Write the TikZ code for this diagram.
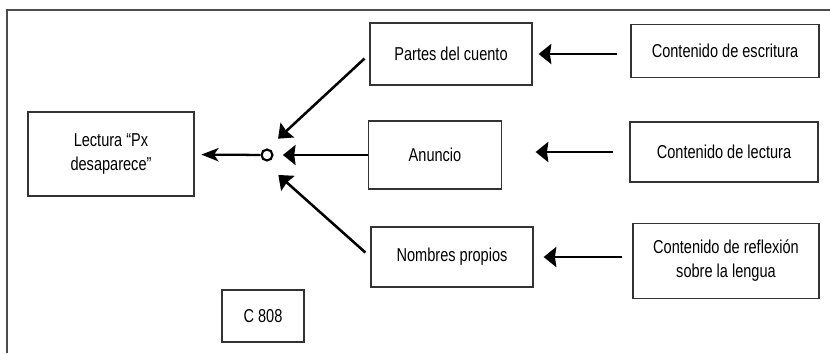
\documentclass[tikz,border=0pt]{standalone}
\usepackage{fontspec}
\setmainfont[FakeStretch=0.78]{Liberation Sans}
\usetikzlibrary{arrows.meta, positioning, calc}

\begin{document}
\begin{tikzpicture}[
    x=0.75pt, y=-0.75pt,
    font=\fontsize{14}{18}\selectfont,
    box/.style={draw=black!80, line width=0.9pt, align=center, inner sep=2pt},
    bigarrow/.style={-{Triangle[length=9.5pt, width=15pt, inset=1pt]}, line width=1.9pt},
    outarrow/.style={-{Stealth[length=13pt, width=10pt, inset=3.5pt]}, line width=1.7pt}
]
\useasboundingbox (0,0) rectangle (830,353);
\draw[black!70, line width=0.8pt] (7,353) -- (7,10) -- (830,10);

% left side
\node[box, minimum width=124.5pt, minimum height=63pt] (lectura) at (111,154) {Lectura “Px\\desaparece”};
\node[circle, draw, line width=1.6pt, minimum size=8.2pt, inner sep=0pt] (hub) at (267,155) {};
\node[box, minimum width=61.5pt, minimum height=39pt] (code) at (263,316) {C 808};

% middle column
\node[box, minimum width=121.5pt, minimum height=46.5pt] (partes) at (451,54) {Partes del cuento};
\node[box, minimum width=100pt, minimum height=51pt] (anuncio) at (435,155) {Anuncio};
\node[box, minimum width=121.5pt, minimum height=45pt] (nombres) at (452,257) {Nombres propios};

% right column
\node[box, minimum width=141pt, minimum height=40pt] (escritura) at (725,51) {Contenido de escritura};
\node[box, minimum width=141pt, minimum height=45pt] (clectura) at (724,152) {Contenido de lectura};
\node[box, minimum width=139.5pt, minimum height=56pt] (reflexion) at (726,261) {Contenido de reflexión\\sobre la lengua};

\draw[bigarrow, shorten <=10pt, shorten >=4.5pt] (escritura.west |- partes.east) -- (partes.east);
\draw[bigarrow, shorten <=12pt, shorten >=25pt] (clectura.west) -- (anuncio.east |- clectura.west);
\draw[bigarrow, shorten <=8pt, shorten >=7.5pt] (reflexion.west |- nombres.east) -- (nombres.east);

\draw[bigarrow, shorten <=5pt, shorten >=18pt] (partes.west) -- (hub.west);
\draw[bigarrow, shorten >=7pt] (anuncio.west) -- (hub);
\draw[bigarrow, shorten <=5pt, shorten >=18pt] (nombres.west) -- ([yshift=-3pt]hub.west);
\draw[outarrow, shorten >=5pt] (hub) -- (lectura);
\end{tikzpicture}
\end{document}
